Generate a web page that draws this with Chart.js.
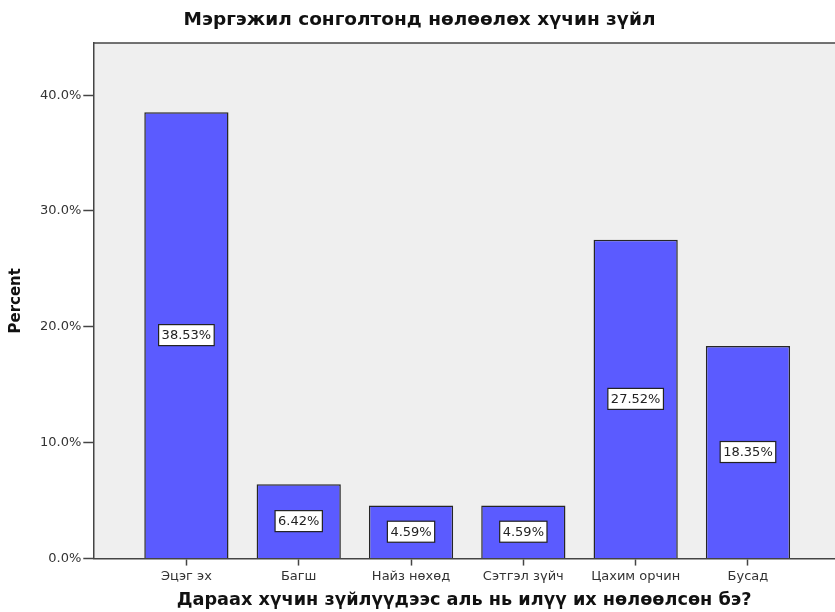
<!DOCTYPE html>
<html lang="mn">
<head>
<meta charset="utf-8">
<title>Мэргэжил сонголтонд нөлөөлөх хүчин зүйл</title>
<script src="https://cdn.jsdelivr.net/npm/chart.js@4/dist/chart.umd.min.js"></script>
<style>
    html, body { margin: 0; padding: 0; background: #fff; overflow: hidden; }
    #wrap { width: 835px; height: 612px; }
</style>
</head>
<body>
<div id="wrap"><canvas id="chart" width="835" height="612"></canvas></div>
<script>
// ── Données ─────────────────────────────────────────────
const categories = ['Эцэг эх', 'Багш', 'Найз нөхөд', 'Сэтгэл зүйч', 'Цахим орчин', 'Бусад'];
const percents = [38.53, 6.42, 4.59, 4.59, 27.52, 18.35];
const yTicks = [0, 10, 20, 30, 40];

const FONT = '"DejaVu Sans", "Liberation Sans", Arial, sans-serif';
const COLORS = {
    bar: '#5b5bff',
    barBorder: '#262626',
    plotBg: '#efefef',
    axis: '#444444',
    tickText: '#333333',
    title: '#111111',
};

// fond gris de la zone de tracé + bord supérieur
const plotBackground = {
    id: 'plotBackground',
    beforeDraw(chart) {
        const { ctx, chartArea: a } = chart;
        ctx.save();
        ctx.fillStyle = COLORS.plotBg;
        ctx.fillRect(a.left, a.top, a.right - a.left, a.bottom - a.top);
        ctx.strokeStyle = COLORS.axis;
        ctx.lineWidth = 1.5;
        ctx.beginPath();
        ctx.moveTo(a.left, a.top);
        ctx.lineTo(a.right, a.top);
        ctx.stroke();
        ctx.restore();
    },
};

// étiquettes encadrées au milieu de chaque barre
const boxedLabels = {
    id: 'boxedLabels',
    afterDatasetsDraw(chart) {
        const { ctx } = chart;
        const meta = chart.getDatasetMeta(0);
        ctx.save();
        ctx.font = `13px ${FONT}`;
        ctx.textAlign = 'center';
        ctx.textBaseline = 'middle';
        meta.data.forEach((bar, i) => {
            const text = percents[i].toFixed(2) + '%';
            const w = ctx.measureText(text).width + 6;
            const h = 21;
            const cx = bar.x;
            const cy = (bar.y + bar.base) / 2;
            ctx.fillStyle = '#ffffff';
            ctx.fillRect(cx - w / 2, cy - h / 2, w, h);
            ctx.strokeStyle = '#222222';
            ctx.lineWidth = 1.2;
            ctx.strokeRect(cx - w / 2, cy - h / 2, w, h);
            ctx.fillStyle = '#222222';
            ctx.fillText(text, cx, cy + 1);
        });
        ctx.restore();
    },
};

new Chart(document.getElementById('chart'), {
    type: 'bar',
    data: {
        datasets: [{
            data: categories.map((c, i) => ({ x: i, y: percents[i] })),
            backgroundColor: COLORS.bar,
            borderColor: COLORS.barBorder,
            borderWidth: 1.5,
            borderSkipped: 'bottom',
            barPercentage: 0.75,
            categoryPercentage: 1,
        }],
    },
    options: {
        responsive: false,
        animation: false,
        devicePixelRatio: 1,
        layout: { padding: { left: 4, right: 0, top: 0, bottom: 0 } },
        plugins: {
            legend: { display: false },
            tooltip: { enabled: false },
            title: {
                display: true,
                text: 'Мэргэжил сонголтонд нөлөөлөх хүчин зүйл',
                color: COLORS.title,
                font: { family: FONT, size: 18.5, weight: 'bold' },
                padding: { top: 9, bottom: 11.8 },
            },
        },
        scales: {
            x: {
                type: 'linear',
                min: -0.829,
                max: 5.775,
                offset: false,
                afterBuildTicks: scale => {
                    scale.ticks = categories.map((c, i) => ({ value: i }));
                },
                ticks: {
                    autoSkip: false,
                    maxRotation: 0,
                    padding: 3,
                    color: COLORS.tickText,
                    font: { family: FONT, size: 13 },
                    callback: v => categories[v] ?? '',
                },
                grid: {
                    offset: false,
                    drawOnChartArea: false,
                    tickLength: 7,
                    color: COLORS.axis,
                    tickWidth: 1.5,
                },
                border: { color: COLORS.axis, width: 1.5 },
                title: {
                    display: true,
                    text: 'Дараах хүчин зүйлүүдээс аль нь илүү их нөлөөлсөн бэ?',
                    color: COLORS.title,
                    font: { family: FONT, size: 17.7, weight: 'bold' },
                    padding: { top: 3, bottom: 0.6 },
                },
            },
            y: {
                min: 0,
                max: 44.5,
                afterBuildTicks: scale => {
                    scale.ticks = yTicks.map(v => ({ value: v }));
                },
                ticks: {
                    padding: 2,
                    color: COLORS.tickText,
                    font: { family: FONT, size: 13 },
                    callback: v => v.toFixed(1) + '%',
                },
                grid: { drawOnChartArea: false, tickLength: 10, color: COLORS.axis, tickWidth: 1.5 },
                border: { color: COLORS.axis, width: 1.5 },
                title: {
                    display: true,
                    text: 'Percent',
                    color: COLORS.title,
                    font: { family: FONT, size: 15, weight: 'bold' },
                    padding: { top: 3, bottom: 13 },
                },
            },
        },
    },
    plugins: [plotBackground, boxedLabels],
});
</script>
</body>
</html>
